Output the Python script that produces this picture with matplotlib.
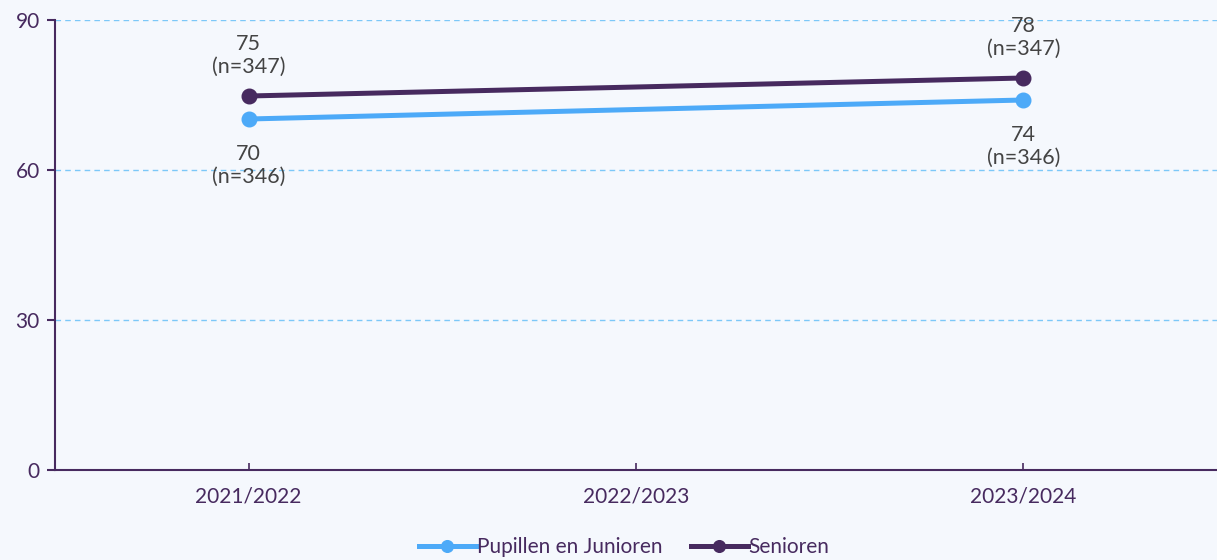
import matplotlib
matplotlib.use("Agg")
from matplotlib import pyplot as plt

seasons = ["2021/2022", "2022/2023", "2023/2024"]
pup_x = [0, 2]
pup_vals = [70.2, 74.0]
pup_labels = ["70\n(n=346)", "74\n(n=346)"]
sen_x = [0, 2]
sen_vals = [74.8, 78.4]
sen_labels = ["75\n(n=347)", "78\n(n=347)"]

bg = "#f5f8fd"
purple = "#472a5f"
blue = "#4daaf8"
grey = "#444444"

plt.rcParams["font.family"] = ["Lato", "DejaVu Sans"]

fig = plt.figure(figsize=(12.17, 5.6), dpi=100, facecolor=bg)
ax = fig.add_axes([55 / 1217, 90 / 560, 1162 / 1217, 450 / 560], facecolor=bg)

ax.plot(pup_x, pup_vals, color=blue, lw=3.6, marker="o", ms=10.5, label="Pupillen en Junioren", zorder=3)
ax.plot(sen_x, sen_vals, color=purple, lw=3.6, marker="o", ms=10.5, label="Senioren", zorder=3)

for x, v, t in zip(sen_x, sen_vals, sen_labels):
    ax.annotate(t, (x, v), xytext=(0, 14), textcoords="offset points",
                ha="center", va="bottom", fontsize=15.5, color=grey, linespacing=1.15)
for x, v, t in zip(pup_x, pup_vals, pup_labels):
    ax.annotate(t, (x, v), xytext=(0, -18), textcoords="offset points",
                ha="center", va="top", fontsize=15.5, color=grey, linespacing=1.15)

ax.set_xlim(-0.5, 2.5)
ax.set_ylim(0, 90)
ax.set_yticks([0, 30, 60, 90])
ax.set_xticks(range(len(seasons)))
ax.set_xticklabels(seasons)
ax.grid(axis="y", color="#7cc8f8", linestyle=(0, (4, 3)), lw=1)
ax.set_axisbelow(True)

for s in ["top", "right"]:
    ax.spines[s].set_visible(False)
for s in ["left", "bottom"]:
    ax.spines[s].set_color(purple)
    ax.spines[s].set_linewidth(1.5)
ax.tick_params(axis="y", colors=purple, labelsize=15, length=6, width=1.5, pad=5)
ax.tick_params(axis="x", colors=purple, labelsize=15, length=5, width=1.2, direction="in", pad=12)

leg = ax.legend(loc="center", bbox_to_anchor=(0.49, -0.171), ncol=2,
                frameon=False, fontsize=15, handlelength=2.7, handletextpad=0.05,
                columnspacing=1.4, markerscale=0.8, borderpad=0)
for t in leg.get_texts():
    t.set_color(purple)

fig.savefig("out.png", dpi=100, facecolor=bg)
